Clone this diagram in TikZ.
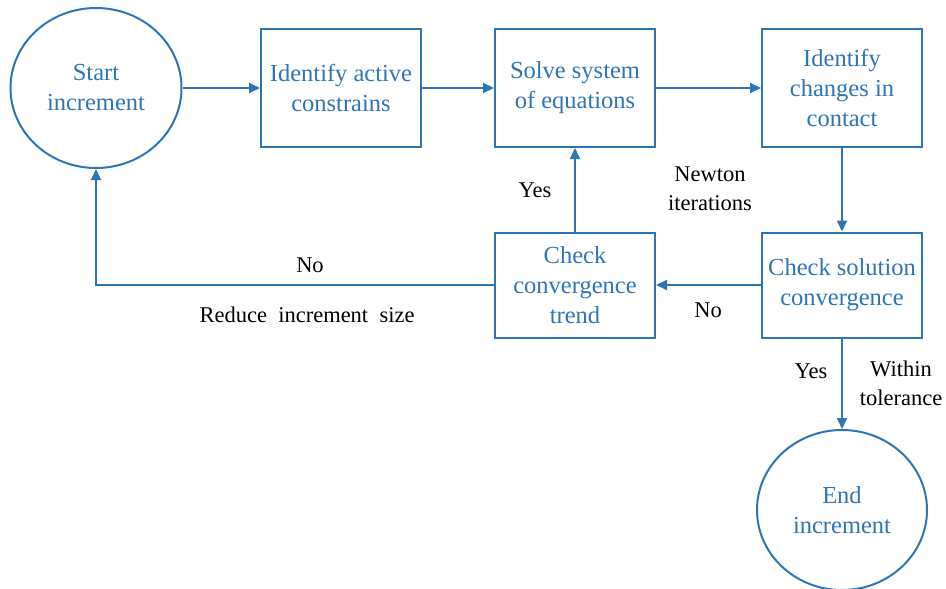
\documentclass[tikz,border=0pt]{standalone}
\usepackage{fontspec}
\setmainfont{Liberation Serif}
\usetikzlibrary{arrows.meta,shapes.geometric}
\definecolor{fb}{RGB}{46,117,182}
\begin{document}
\begin{tikzpicture}[x=1pt,y=-1pt,
  box/.style={draw=fb, line width=2pt, minimum width=160pt, minimum height=118pt,
    text=fb, font=\fontsize{24.5}{30}\selectfont, align=center, inner sep=0pt},
  circ/.style={ellipse, draw=fb, line width=2pt, minimum width=171pt, minimum height=160pt,
    text=fb, font=\fontsize{24.5}{30}\selectfont, align=center, inner sep=0pt},
  lbl/.style={font=\fontsize{22.5}{29}\selectfont, text=black, align=center, inner sep=0pt},
  arr/.style={draw=fb, line width=2pt, -{Triangle[length=11pt,width=10pt]}}]
\useasboundingbox (0,0) rectangle (946,589);
\node[circ] (start) at (96,88) {Start\\increment};
\node[box] (b1) at (341,88) {Identify active\\constrains};
\node[box] (b2) at (575,88) {Solve system\\of equations};
\node[box] (b3) at (842,88) {Identify\\changes in\\contact};
\node[box, minimum height=105pt] (b4) at (842,285) {Check solution\\convergence};
\node[box, minimum height=105pt] (b5) at (575,285) {Check\\convergence\\trend};
\node[circ, minimum width=170pt] (end) at (842,510) {End\\increment};
\draw[arr] (start) -- (b1);
\draw[arr] (b1) -- (b2);
\draw[arr] (b2) -- (b3);
\draw[arr] (b3) -- (b4);
\draw[arr] (b4) -- (b5);
\draw[arr] (b5) -- (b2);
\draw[arr] (b5.west) -| (start.south);
\draw[arr] (b4) -- (end);
\node[lbl] (lno1) at (310,265) {No};
\node[lbl] (lred) at (307,315) {Reduce\hspace{0.5em}increment\hspace{0.5em}size};
\node[lbl] (lyes1) at (535,190) {Yes};
\node[lbl] (lnewt) at (710,189) {Newton\\iterations};
\node[lbl] (lno2) at (708,310) {No};
\node[lbl] (lyes2) at (811,371) {Yes};
\node[lbl] (ltol) at (901,383) {Within\\tolerance};
\end{tikzpicture}
\end{document}
